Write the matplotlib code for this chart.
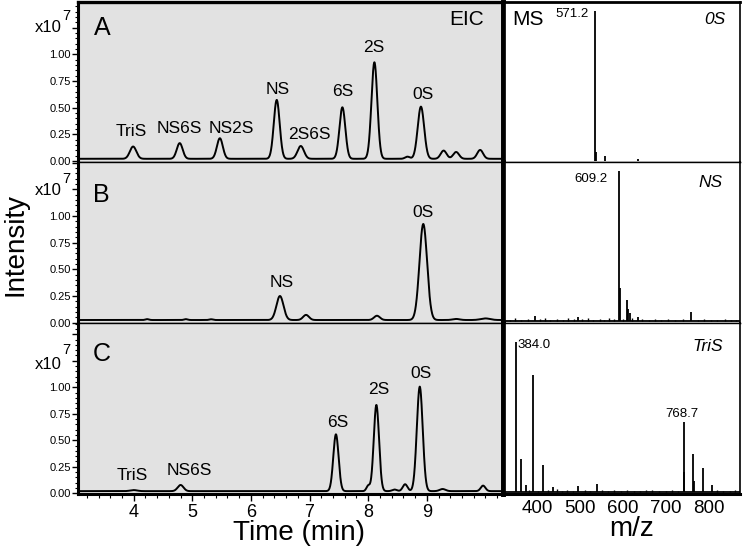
import numpy as np
import matplotlib
matplotlib.use("Agg")
import matplotlib.pyplot as plt
from matplotlib.ticker import MultipleLocator, FixedLocator, FuncFormatter

plt.rcParams['font.family'] = ['Liberation Sans', 'DejaVu Sans']

# ---------------- EIC data (retention time in min, intensity in x10^7) -------------
a_baseline = 0.02
a_rt = [3.99, 4.785, 5.47, 6.44, 6.85, 7.56, 8.106, 8.67, 8.90, 9.287, 9.50, 9.91]
a_height = [0.115, 0.147, 0.193, 0.552, 0.120, 0.483, 0.905, 0.020, 0.489, 0.077, 0.064, 0.083]
a_sigma = [0.055, 0.050, 0.050, 0.050, 0.055, 0.050, 0.050, 0.04, 0.055, 0.05, 0.05, 0.05]
a_labels = ['TriS', 'NS6S', 'NS2S', 'NS', '2S6S', '6S', '2S', '0S']
a_label_rt = [3.95, 4.78, 5.67, 6.45, 7.00, 7.57, 8.10, 8.93]
a_label_y = [0.28, 0.306, 0.30, 0.672, 0.244, 0.65, 1.06, 0.62]

b_baseline = 0.025
b_rt = [4.23, 4.89, 5.32, 6.495, 6.94, 8.15, 8.94, 9.50, 10.0]
b_height = [0.008, 0.008, 0.007, 0.225, 0.048, 0.040, 0.900, 0.010, 0.015]
b_sigma = [0.03, 0.03, 0.03, 0.060, 0.050, 0.050, 0.065, 0.06, 0.08]
b_labels = ['NS', '0S']
b_label_rt = [6.52, 8.94]
b_label_y = [0.375, 1.03]

c_baseline = 0.02
c_rt = [4.00, 4.80, 7.45, 8.00, 8.14, 8.45, 8.63, 8.88, 9.27, 9.96]
c_height = [0.010, 0.058, 0.536, 0.050, 0.813, 0.015, 0.065, 0.986, 0.020, 0.052]
c_sigma = [0.06, 0.05, 0.045, 0.03, 0.045, 0.04, 0.04, 0.05, 0.05, 0.04]
c_labels = ['TriS', 'NS6S', '6S', '2S', '0S']
c_label_rt = [3.97, 4.95, 7.48, 8.18, 8.90]
c_label_y = [0.17, 0.213, 0.666, 0.975, 1.13]

eic_ticks = [4, 5, 6, 7, 8, 9]
intensity_ticks = [0.0, 0.25, 0.5, 0.75, 1.0, 1.25, 1.5]

# ---------------- MS data (m/z, relative intensity) --------------------------------
ms0_mz = [534.5, 536.0, 558.0, 635.0]
ms0_int = [100.0, 5.6, 3.3, 0.8]
ms0_label = '571.2'

msns_mz = [591.6, 593.0, 608.7, 612.4, 615.7, 634.4, 758.4, 394.0, 494.7]
msns_int = [100.0, 22.0, 14.4, 8.2, 5.5, 3.3, 6.2, 3.8, 3.3]
msns_noise_mz = [335, 348, 362, 377, 405, 418, 430, 446, 460, 472, 485, 505, 517, 530,
                 545, 556, 568, 580, 600, 622, 645, 660, 675, 690, 705, 722, 740, 775,
                 790, 805, 820, 838, 852, 865]
msns_noise_int = [1.2, 2.0, 1.0, 1.6, 1.4, 2.2, 1.0, 1.8, 1.2, 2.0, 1.4, 1.6, 2.4, 1.2,
                  1.8, 1.0, 2.0, 1.4, 1.6, 2.2, 1.8, 1.2, 1.6, 1.0, 1.4, 1.2, 1.6, 1.0,
                  1.4, 1.2, 1.0, 1.4, 1.0, 1.2]
msns_label = '609.2'

mstri_mz = [349.0, 360.7, 372.4, 390.2, 413.6, 436.3, 494.7, 539.0, 742.0, 744.0, 763.7,
            765.5, 786.4, 808.2]
mstri_int = [100.0, 22.0, 4.9, 77.8, 18.0, 3.8, 4.2, 5.5, 46.6, 13.8, 25.3, 7.8, 16.0, 5.3]
mstri_noise_mz = [380, 400, 425, 445, 458, 470, 482, 510, 522, 552, 565, 580, 595, 610,
                  625, 640, 655, 668, 685, 700, 715, 728, 820, 835, 850, 862]
mstri_noise_int = [1.6, 1.2, 1.4, 2.0, 1.0, 1.4, 1.2, 1.6, 1.0, 1.8, 1.2, 1.4, 1.0, 1.6,
                   1.2, 1.0, 1.4, 1.8, 1.2, 1.0, 1.4, 1.2, 1.6, 1.2, 1.0, 1.4]
mstri_labels = ['384.0', '768.7']

mz_ticks = [400, 500, 600, 700, 800]

# ---------------- figure --------------------------------------------------------------
W, H = 745, 551
fig = plt.figure(figsize=(W / 100, H / 100), dpi=100)


def fx(x):
    return x / W


def fy(y):
    return 1 - y / H


rows = [(2, 162), (162, 323), (323, 494)]
xl, xm, xr = 78, 503, 740
ylims_left = [(-0.01, 1.49), (-0.003, 1.506), (-0.007, 1.606)]
ylims_right = [(-1, 106), (-1, 106), (-1, 112.7)]

gray = '#e2e2e2'
t = np.linspace(3.05, 10.3, 2000)


def trace(base, rts, hs, ss):
    y = np.full_like(t, base)
    for c, h, s in zip(rts, hs, ss):
        y = y + h * np.exp(-0.5 * ((t - c) / s) ** 2)
    return y


eic_sets = [
    (a_baseline, a_rt, a_height, a_sigma, a_labels, a_label_rt, a_label_y),
    (b_baseline, b_rt, b_height, b_sigma, b_labels, b_label_rt, b_label_y),
    (c_baseline, c_rt, c_height, c_sigma, c_labels, c_label_rt, c_label_y),
]

left_axes = []
for i, (top, bot) in enumerate(rows):
    ax = fig.add_axes([fx(xl), fy(bot), fx(xm) - fx(xl), (bot - top) / H])
    ax.set_facecolor(gray)
    base, rts, hs, ss, labs, lrt, ly = eic_sets[i]
    ax.plot(t, trace(base, rts, hs, ss), color='k', lw=1.4)
    for lab, x, y in zip(labs, lrt, ly):
        ax.text(x, y, lab, ha='center', va='center', fontsize=12.5)
    ax.set_xlim(3.05, 10.3)
    ax.set_ylim(*ylims_left[i])
    ax.yaxis.set_major_locator(FixedLocator(intensity_ticks))
    ax.yaxis.set_major_formatter(FuncFormatter(lambda v, p: f'{v:.2f}' if v <= 1.001 else ''))
    ax.yaxis.set_minor_locator(MultipleLocator(0.05))
    ax.tick_params(axis='y', which='major', direction='out', length=4, width=1,
                   labelsize=8, pad=1)
    ax.tick_params(axis='y', which='minor', direction='out', length=2.5, width=0.8)
    ax.spines['left'].set_linewidth(2.2)
    ax.spines['right'].set_linewidth(3.4)
    ax.spines['top'].set_linewidth(2.4 if i == 0 else 1.0)
    ax.spines['bottom'].set_linewidth(2.2 if i == 2 else 1.0)
    if i < 2:
        ax.set_xticks([])
    else:
        ax.set_xticks(eic_ticks)
        ax.xaxis.set_minor_locator(MultipleLocator(0.2))
        ax.tick_params(axis='x', which='major', direction='out', length=5, width=1,
                       labelsize=13, pad=2)
        ax.tick_params(axis='x', which='minor', direction='out', length=3, width=0.8)
    left_axes.append(ax)

ms_sets = [
    (ms0_mz, ms0_int, [], []),
    (msns_mz, msns_int, msns_noise_mz, msns_noise_int),
    (mstri_mz, mstri_int, mstri_noise_mz, mstri_noise_int),
]

right_axes = []
for i, (top, bot) in enumerate(rows):
    ax = fig.add_axes([fx(xm), fy(bot), fx(xr) - fx(xm), (bot - top) / H])
    ax.set_facecolor('white')
    mz, inten, nmz, nint = ms_sets[i]
    if nmz:
        ax.plot([319, 874], [0.6, 0.6], color='k', lw=1.3)
        ax.vlines(nmz, 0, nint, color='k', lw=1.0)
    ax.vlines(mz, 0, inten, color='k', lw=1.3)
    ax.set_xlim(319, 874)
    ax.set_ylim(*ylims_right[i])
    ax.set_yticks([])
    ax.spines['left'].set_linewidth(3.4)
    ax.spines['right'].set_linewidth(1.2)
    ax.spines['top'].set_linewidth(2.0 if i == 0 else 1.0)
    ax.spines['bottom'].set_linewidth(2.2 if i == 2 else 1.0)
    if i < 2:
        ax.xaxis.set_major_locator(MultipleLocator(50))
        ax.tick_params(axis='x', which='major', direction='out', length=2.5, width=0.8,
                       labelbottom=False)
    else:
        ax.set_xticks(mz_ticks)
        ax.tick_params(axis='x', which='major', direction='out', length=0, width=0.8,
                       labelsize=13.5, pad=4)
    right_axes.append(ax)

# annotations of the MS panels
r0, r1, r2 = right_axes
r0.text(0.037, 0.89, 'MS', transform=r0.transAxes, ha='left', va='center', fontsize=15)
r0.text(520.5, 98, ms0_label, ha='right', va='center', fontsize=9.5)
r0.text(0.895, 0.89, '0S', transform=r0.transAxes, ha='center', va='center',
        fontsize=12.5, style='italic')
r1.text(564, 95, msns_label, ha='right', va='center', fontsize=9.5)
r1.text(0.877, 0.87, 'NS', transform=r1.transAxes, ha='center', va='center',
        fontsize=12.5, style='italic')
r2.text(353.7, 98, mstri_labels[0], ha='left', va='center', fontsize=9.5)
r2.text(739, 52.5, mstri_labels[1], ha='center', va='center', fontsize=9.5)
r2.text(0.866, 0.86, 'TriS', transform=r2.transAxes, ha='center', va='center',
        fontsize=12.5, style='italic')

# panel letters and EIC tag
for letter, (x, y) in zip(['A', 'B', 'C'], [(102.3, 28.3), (101.7, 195), (101.7, 354)]):
    fig.text(fx(x), fy(y), letter, ha='center', va='center', fontsize=18)
fig.text(fx(466.7), fy(19.3), 'EIC', ha='center', va='center', fontsize=15)

# x10^7 multipliers
for (xb, yb7) in [(32, 23), (195, 186), (369, 357)]:
    fig.text(fx(62), fy(xb), 'x10', ha='right', va='baseline', fontsize=12)
    fig.text(fx(62.3), fy(yb7), '7', ha='left', va='bottom', fontsize=10.5)

# axis titles
fig.text(fx(16), fy(245), 'Intensity', rotation=90, ha='center', va='center', fontsize=20)
fig.text(fx(299), fy(533), 'Time (min)', ha='center', va='center', fontsize=20)
fig.text(fx(632), fy(529), 'm/z', ha='center', va='center', fontsize=20)

fig.savefig('out.png', dpi=100)
